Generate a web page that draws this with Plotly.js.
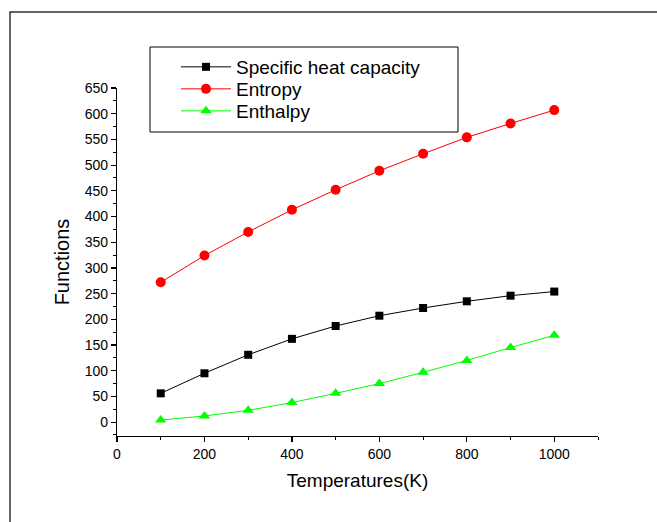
<!DOCTYPE html>
<html>
<head>
<meta charset="utf-8">
<script src="https://cdn.plot.ly/plotly-3.0.1.min.js"></script>
<style>html,body{margin:0;padding:0;background:#fff;}#chart{width:657px;height:522px;}</style>
</head>
<body>
<div id="chart"></div>
<script>
const temperatures = [100, 200, 300, 400, 500, 600, 700, 800, 900, 1000];
const specificHeat = [56, 95, 131, 162, 187, 207, 222, 235, 246, 254];
const entropy = [272, 324, 370, 413, 452, 489, 522, 554, 581, 607];
const enthalpy = [4, 12, 23, 38, 56, 75, 97, 120, 145, 169];
const seriesNames = ["Specific heat capacity", "Entropy", "Enthalpy"];
const xTitle = "Temperatures(K)";
const yTitle = "Functions";

const font = "Arial, 'Liberation Sans', sans-serif";
const traces = [
  {x: temperatures, y: specificHeat, name: seriesNames[0], mode: "lines+markers", legend: "legend",
   line: {color: "#000000", width: 1}, marker: {symbol: "square", size: 8, color: "#000000"}},
  {x: temperatures, y: entropy, name: seriesNames[1], mode: "lines+markers", legend: "legend2",
   line: {color: "#ff0000", width: 1}, marker: {symbol: "circle", size: 10, color: "#ff0000"}},
  {x: temperatures, y: enthalpy, name: seriesNames[2], mode: "lines+markers", legend: "legend3",
   line: {color: "#00ff00", width: 1}, marker: {symbol: "triangle-up", size: 10, color: "#00ff00"}}
];

const L = 117, R = 598, T = 88, B = 436, W = 657, H = 522;
const pw = R - L, ph = B - T;
const px = v => (v - L) / pw;
const py = v => (B - v) / ph;

function legendAt(yc) {
  return {
    x: px(176), y: py(yc), xanchor: "left", yanchor: "middle",
    borderwidth: 0, bgcolor: "rgba(0,0,0,0)",
    font: {family: font, size: 19, color: "#000000"},
    itemwidth: 50
  };
}

const layout = {
  width: W, height: H,
  margin: {l: L, r: W - R, t: T, b: H - B, pad: 0},
  paper_bgcolor: "#ffffff", plot_bgcolor: "#ffffff",
  font: {family: font, color: "#000000"},
  showlegend: true,
  legend: legendAt(67),
  legend2: legendAt(89),
  legend3: legendAt(111),
  xaxis: {
    range: [0, 1100], dtick: 200, tick0: 0,
    showgrid: false, zeroline: false, showline: true, linecolor: "#000000", linewidth: 1.2,
    ticks: "outside", ticklen: 5, tickwidth: 1.2, tickcolor: "#000000",
    tickfont: {family: font, size: 14, color: "#000000"},
    minor: {dtick: 100, ticks: "outside", ticklen: 3, tickwidth: 1, tickcolor: "#000000", showgrid: false},
    title: {text: xTitle, font: {family: font, size: 19, color: "#000000"}, standoff: 12},
    fixedrange: true
  },
  yaxis: {
    range: [-27, 650], dtick: 50, tick0: 0,
    showgrid: false, zeroline: false, showline: true, linecolor: "#000000", linewidth: 1.2,
    ticks: "outside", ticklen: 5, tickwidth: 1.2, tickcolor: "#000000",
    tickfont: {family: font, size: 14, color: "#000000"},
    minor: {dtick: 25, ticks: "outside", ticklen: 3, tickwidth: 1, tickcolor: "#000000", showgrid: false},
    title: {text: yTitle, font: {family: font, size: 20, color: "#000000"}, standoff: 9},
    fixedrange: true
  },
  shapes: [
    {type: "rect", xref: "paper", yref: "paper",
     x0: px(10), x1: px(670), y0: py(535), y1: py(12),
     line: {color: "#333333", width: 1.5}, fillcolor: "rgba(0,0,0,0)", layer: "below"},
    {type: "rect", xref: "paper", yref: "paper",
     x0: px(150), x1: px(458), y0: py(132), y1: py(47),
     line: {color: "#000000", width: 1}, fillcolor: "rgba(0,0,0,0)", layer: "above"}
  ]
};

Plotly.newPlot("chart", traces, layout, {displayModeBar: false, staticPlot: true});
</script>
</body>
</html>
